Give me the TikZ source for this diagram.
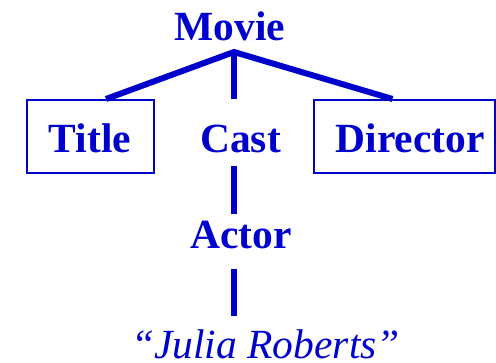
\documentclass[tikz,border=0pt]{standalone}
\usepackage{fontspec}
\setmainfont{Liberation Serif}
\definecolor{ink}{RGB}{0,0,204}
\begin{document}
\begin{tikzpicture}[x=1pt,y=-1pt,
  lbl/.style={text=ink,font=\fontsize{41.5}{48}\selectfont\bfseries,inner sep=0pt,anchor=base},
  value/.style={text=ink,font=\fontsize{41.5}{48}\selectfont\itshape,inner sep=0pt,anchor=base},
  box/.style={draw=ink,line width=2pt,minimum width=#1,minimum height=73pt,inner sep=0pt},
  branch/.style={draw=ink,line width=6pt,line join=miter}]
\useasboundingbox (0,0) rectangle (496,363);
\coordinate (hub) at (234,52);
% labels
\node[lbl] (movie) at (230,40.5) {Movie};
\node[box=127pt] (titlebox) at (90.5,136.5) {};
\node[lbl] (title) at (90,153) {Title};
\node[lbl] (cast) at (240.5,153) {Cast};
\node[box=181pt] (directorbox) at (404.5,136.5) {};
\node[lbl] (director) at (410,153) {Director};
\node[lbl] (actor) at (241,249) {Actor};
\node[value] (julia) at (265.5,359) {“Julia Roberts”};
% tree edges
\draw[branch] ([xshift=15.5pt]titlebox.north) -- (hub) -- ([xshift=-12pt]directorbox.north);
\draw[branch] (hub) -- (hub |- titlebox.north);
\draw[branch,shorten <=12pt,shorten >=7pt] (cast.south -| hub) -- (actor.north -| hub);
\draw[branch,shorten <=19pt,shorten >=14.5pt] (actor.south -| hub) -- (julia.north -| hub);
\end{tikzpicture}
\end{document}
